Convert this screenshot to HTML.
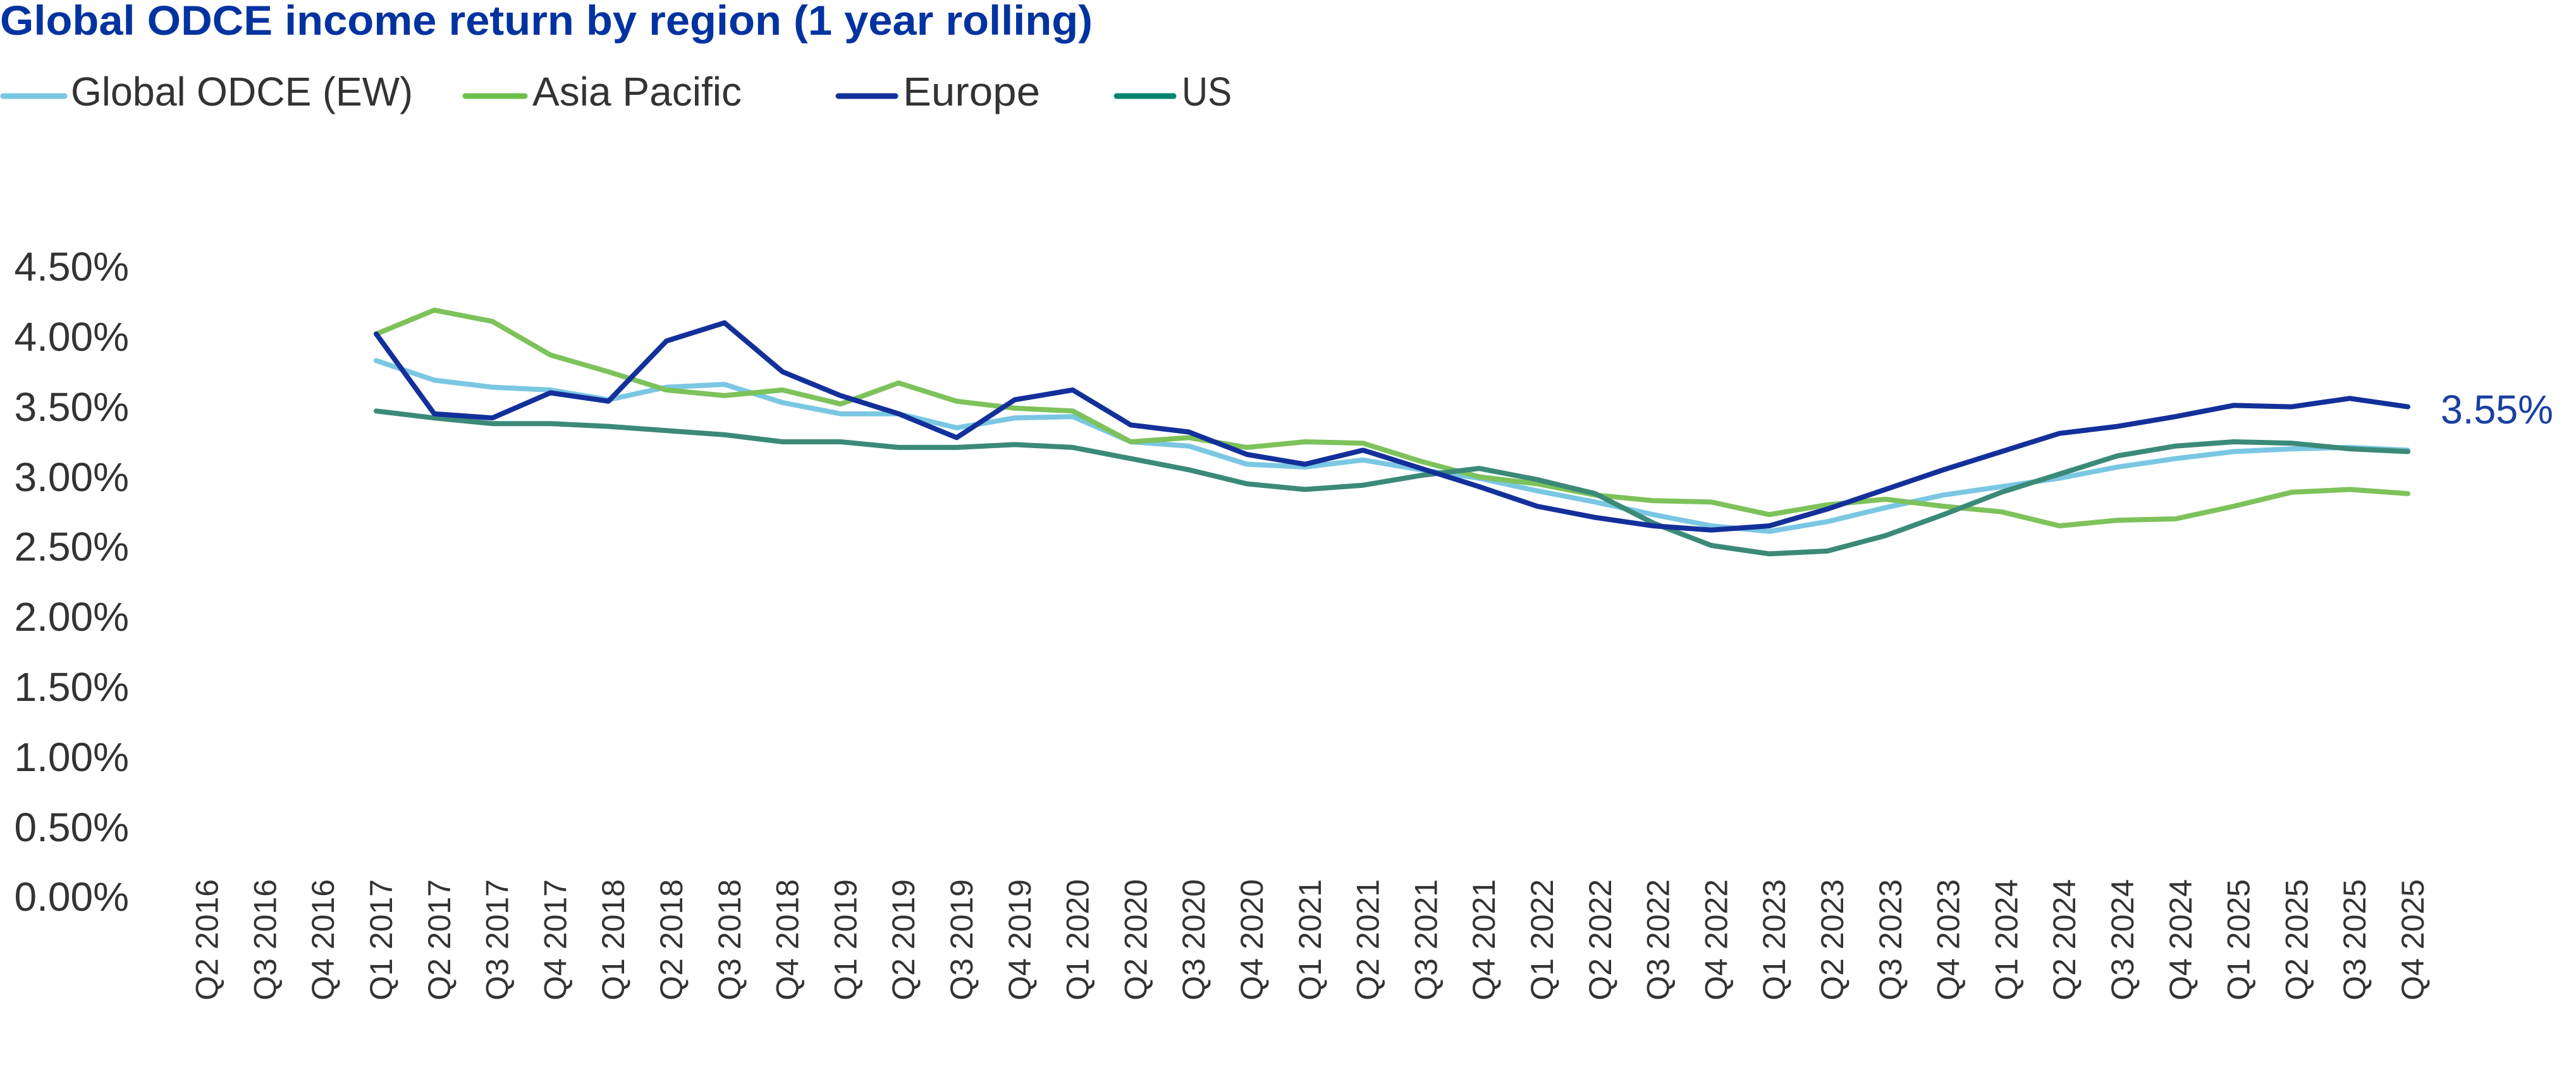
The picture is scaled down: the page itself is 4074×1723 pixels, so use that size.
<!DOCTYPE html>
<html><head><meta charset="utf-8"><style>
html,body{margin:0;padding:0;background:#fff}
svg{display:block}
text{font-family:"Liberation Sans",sans-serif}
</style></head><body>
<svg width="4074" height="1723" viewBox="0 0 4074 1723" xmlns="http://www.w3.org/2000/svg">
<text x="0" y="55" font-size="66" font-weight="bold" fill="#0033a0" textLength="1728" lengthAdjust="spacingAndGlyphs">Global ODCE income return by region (1 year rolling)</text>
<g stroke-width="9" stroke-linecap="round">
<line x1="5" y1="152" x2="102" y2="152" stroke="#7ac7e3"/>
<line x1="736" y1="152" x2="830" y2="152" stroke="#6cc04a"/>
<line x1="1326" y1="152" x2="1416" y2="152" stroke="#13309a"/>
<line x1="1766" y1="152" x2="1856" y2="152" stroke="#00856f"/>
</g>
<g font-size="64" fill="#333">
<text x="112" y="167" textLength="541" lengthAdjust="spacingAndGlyphs">Global ODCE (EW)</text>
<text x="842" y="167" textLength="331" lengthAdjust="spacingAndGlyphs">Asia Pacific</text>
<text x="1428" y="167" textLength="217" lengthAdjust="spacingAndGlyphs">Europe</text>
<text x="1869" y="167" textLength="79" lengthAdjust="spacingAndGlyphs">US</text>
</g>
<g font-size="64" fill="#333" text-anchor="end">
<text x="204" y="444">4.50%</text>
<text x="204" y="555">4.00%</text>
<text x="204" y="666">3.50%</text>
<text x="204" y="777">3.00%</text>
<text x="204" y="887">2.50%</text>
<text x="204" y="998">2.00%</text>
<text x="204" y="1109">1.50%</text>
<text x="204" y="1220">1.00%</text>
<text x="204" y="1331">0.50%</text>
<text x="204" y="1441">0.00%</text>
</g>
<g id="xl" font-size="50" fill="#333" text-anchor="end"></g>
<g id="series" fill="none" stroke-width="8" stroke-linejoin="round" stroke-linecap="round"></g>
<text x="3860" y="670" font-size="64" fill="#1a3fa0" textLength="178" lengthAdjust="spacingAndGlyphs">3.55%</text>
<script>
var NS="http://www.w3.org/2000/svg";
var labels=[];var q=2,y=2016;
for(var i=0;i<39;i++){labels.push("Q"+q+" "+y);q++;if(q>4){q=1;y++;}}
function X(i){return 595+(i-3)*91.8;}
function Y(v){return 1417-v*221.6;}
var xl=document.getElementById("xl");
labels.forEach(function(l,i){var t=document.createElementNS(NS,"text");var bx=X(i)+25;
t.setAttribute("x",bx);t.setAttribute("y",1391);t.setAttribute("transform","rotate(-90 "+bx+" 1391)");t.textContent=l;xl.appendChild(t);});
var data={
"#7ac7e3":[3.82,3.68,3.63,3.61,3.54,3.63,3.65,3.52,3.44,3.44,3.34,3.41,3.42,3.24,3.21,3.08,3.06,3.11,3.04,2.98,2.89,2.81,2.72,2.64,2.60,2.67,2.77,2.86,2.92,2.98,3.06,3.12,3.17,3.19,3.20,3.18],
"#7dc25a":[4.01,4.18,4.10,3.86,3.74,3.61,3.57,3.61,3.51,3.66,3.53,3.48,3.46,3.24,3.27,3.20,3.24,3.23,3.10,2.99,2.94,2.86,2.82,2.81,2.72,2.79,2.83,2.78,2.74,2.64,2.68,2.69,2.78,2.88,2.90,2.87],
"#3b8a78":[3.46,3.41,3.37,3.37,3.35,3.32,3.29,3.24,3.24,3.20,3.20,3.22,3.20,3.12,3.04,2.94,2.90,2.93,3.00,3.05,2.97,2.87,2.66,2.50,2.44,2.46,2.57,2.72,2.88,3.01,3.14,3.21,3.24,3.23,3.19,3.17],
"#13309a":[4.01,3.44,3.41,3.59,3.53,3.96,4.09,3.74,3.57,3.44,3.27,3.54,3.61,3.36,3.31,3.15,3.08,3.18,3.05,2.92,2.78,2.70,2.64,2.61,2.64,2.76,2.90,3.04,3.17,3.30,3.35,3.42,3.50,3.49,3.55,3.49]
};
var g=document.getElementById("series");
Object.keys(data).forEach(function(c){var p=data[c].map(function(v,k){return X(k+3).toFixed(1)+","+Y(v).toFixed(1);}).join(" ");
var pl=document.createElementNS(NS,"polyline");pl.setAttribute("points",p);pl.setAttribute("stroke",c);g.appendChild(pl);});
</script>
</svg>
</body></html>
